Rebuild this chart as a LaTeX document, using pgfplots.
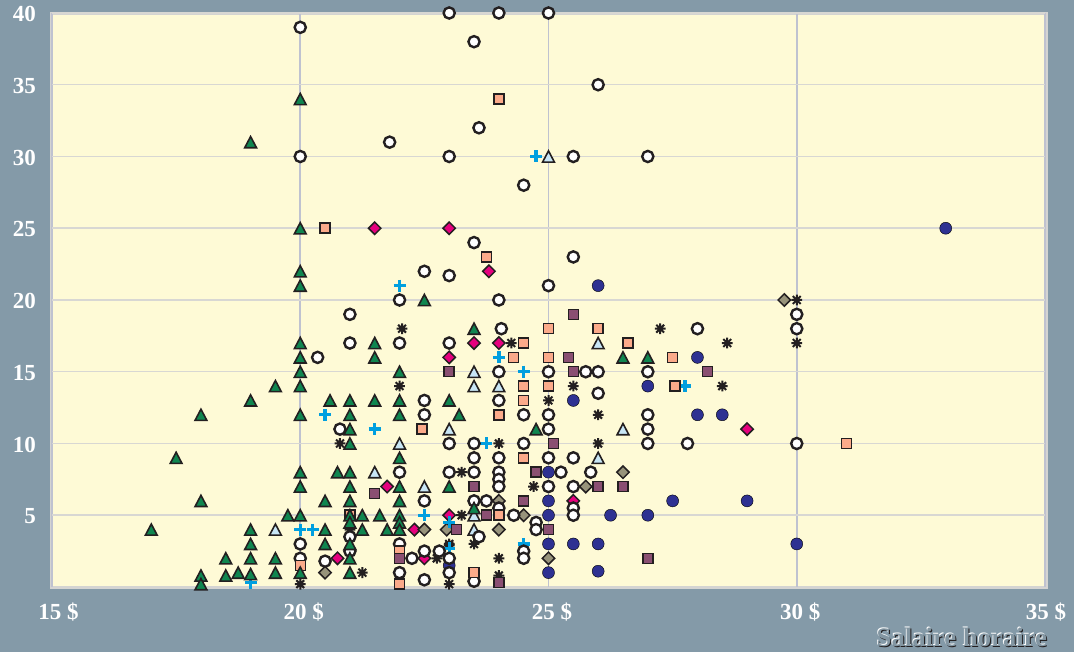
\documentclass[border=0pt]{standalone}
\usepackage{fontspec}
\setmainfont{Liberation Serif}
\usepackage{pgfplots}
\pgfplotsset{compat=1.18}
\definecolor{bgc}{HTML}{849AA8}
\definecolor{plotc}{HTML}{FEFAD6}
\definecolor{framec}{HTML}{D4D4D2}
\definecolor{hg}{HTML}{D8D7D3}
\definecolor{vg}{HTML}{BFC2D0}
\definecolor{ink}{HTML}{231F20}
\definecolor{gre}{HTML}{0F8650}
\definecolor{ltb}{HTML}{C8E6F6}
\definecolor{sal}{HTML}{FBAA8A}
\definecolor{pur}{HTML}{8A4F72}
\definecolor{pnk}{HTML}{E6007E}
\definecolor{gry}{HTML}{97937B}
\definecolor{blu}{HTML}{2E3192}
\definecolor{pls}{HTML}{009FDF}
\pgfdeclareplotmark{tri}{%
  \pgfpathmoveto{\pgfqpoint{0pt}{5.6pt}}%
  \pgfpathlineto{\pgfqpoint{5.9pt}{-5.6pt}}%
  \pgfpathlineto{\pgfqpoint{-5.9pt}{-5.6pt}}%
  \pgfpathclose\pgfusepathqfillstroke}
\pgfdeclareplotmark{dia}{%
  \pgfpathmoveto{\pgfqpoint{0pt}{6.2pt}}%
  \pgfpathlineto{\pgfqpoint{6.2pt}{0pt}}%
  \pgfpathlineto{\pgfqpoint{0pt}{-6.2pt}}%
  \pgfpathlineto{\pgfqpoint{-6.2pt}{0pt}}%
  \pgfpathclose\pgfusepathqfillstroke}
\pgfdeclareplotmark{ast}{%
  \pgfpathmoveto{\pgfqpoint{-5.4pt}{0pt}}\pgfpathlineto{\pgfqpoint{5.4pt}{0pt}}%
  \pgfpathmoveto{\pgfqpoint{0pt}{-5.4pt}}\pgfpathlineto{\pgfqpoint{0pt}{5.4pt}}%
  \pgfpathmoveto{\pgfqpoint{-3.9pt}{-3.9pt}}\pgfpathlineto{\pgfqpoint{3.9pt}{3.9pt}}%
  \pgfpathmoveto{\pgfqpoint{-3.9pt}{3.9pt}}\pgfpathlineto{\pgfqpoint{3.9pt}{-3.9pt}}%
  \pgfusepathqstroke}
\pgfplotsset{
  s/.style={only marks},
}
\begin{document}
\begin{tikzpicture}[x=1pt,y=1pt]
\useasboundingbox (0,0) rectangle (1074,652);
\fill[bgc] (0,0) rectangle (1074,652);
\fill[plotc] (51.5,64.5) rectangle (1046.5,638.5);
\draw[framec,line width=3pt] (51.5,64.5) rectangle (1046.5,638.5);
\begin{axis}[
  at={(52pt,65pt)},anchor=south west,
  scale only axis,width=993pt,height=574pt,
  xmin=15,xmax=35,ymin=0,ymax=40,
  clip=false,
  axis line style={draw=none},
  major tick length=0pt,
  xtick={15,20,25,30,35},
  xticklabels={\hspace*{6pt}15 \$,20 \$,25 \$,30 \$,35 \$\hspace*{5pt}},
  ytick={5,10,15,20,25,30,35,40},
  yticklabels={5,10,15,20,25,30,35,40},
  grid=major,
  x grid style={vg,line width=1.6pt},
  y grid style={hg,line width=1.5pt},
  ticklabel style={font=\fontsize{23}{23}\selectfont\bfseries,text=white,inner sep=0pt},
  xticklabel style={anchor=center,yshift=-25pt,xshift=3.5pt},
  yticklabel style={anchor=east,xshift=-16pt,yshift=-1pt},
  /pgf/number format/assume math mode=true,
]
% dark blue dots
\addplot[s,mark=*,mark size=6pt,mark options={fill=blu,draw=none}] coordinates {
(33,25)(26,21)(28,16)(27,14)(25.5,13)(28,12)(28.5,12)(25,8)(25,6)(25,5)(27.5,6)(29,6)(26.25,5)(27,5)(25,3)(25.5,3)(26,3)(30,3)(25,1)(26,1.1)(23,1.5)};
% pink diamonds
\addplot[s,mark=dia,mark options={fill=pnk,draw=ink,line width=1.5pt}] coordinates {
(21.5,25)(23,25)(23.8,22)(23.5,17)(24,17)(23,16)(29,11)(21.75,7)(22.3,4)(25.5,6)(23,5)(22.5,2)(20.75,2)};
% grey diamonds
\addplot[s,mark=dia,mark options={fill=gry,draw=ink,line width=1.5pt}] coordinates {
(29.75,20)(26.5,8)(25.75,7)(24,6)(24.5,5)(22.5,4)(22.95,4)(24,4)(25,2)(20.5,1)};
% asterisks
\addplot[s,mark=ast,mark options={draw=ink,line width=2pt}] coordinates {
(22.05,18)(27.25,18)(24.25,17)(28.6,17)(30,20)(30,17)(22,14)(25.5,14)(28.5,14)(25,13)(26,12)(20.8,10)(24,10)(26,10)(23.25,8)(24.7,7)(23.25,5)(23,3)(23.5,3)(22.75,2)(24,2)(24,0.8)(23,0.2)(20,0.2)(21.25,1)(21,4)(23,2.9)};
% plus
\addplot[s,mark=+,mark size=6pt,mark options={draw=pls,line width=3.3pt}] coordinates {
(20.5,12)(21.5,11)(22,21)(24,16)(24.5,15)(24.75,30)(27.75,14)(23.75,10)(22.5,5)(23,4.5)(23,2.7)(24.5,3)(19,0.3)(20,4)(20.25,4)};
% light blue triangles
\addplot[s,mark=tri,mark options={fill=ltb,draw=ink,line width=1.6pt}] coordinates {
(19.5,4)(21.5,8)(22,10)(22.5,7)(23,11)(23.5,5)(23.5,4)(26,9)(26.5,11)(23.5,15)(23.5,14)(24,14)(26,17)(25,30)};
% white circles
\addplot[s,mark=*,mark size=5.6pt,mark options={fill=white,draw=ink,line width=2.4pt}] coordinates {
(20,39)(23,40)(24,40)(25,40)(23.5,38)(26,35)(23.6,32)(21.8,31)(20,30)(23,30)(25.5,30)(27,30)(24.5,28)(23.5,24)(25.5,23)(22.5,22)(23,21.7)(25,21)(22,20)(24,20)(21,19)(30,19)(30,18)(24.05,18)(28,18)(21,17)(22,17)(23,17)(20.35,16)(24,15)(25,15)(25.75,15)(26,15)(27,15)(26,13.5)(24,13)(22.5,13)(22.5,12)(24.5,12)(25,12)(27,12)(25,11)(27,11)(20.8,11)(23,10)(23.5,10)(24.5,10)(27,10)(27.8,10)(30,10)
(23.5,9)(24,9)(25,9)(25.5,9)(22,8)(23,8)(23.5,8)(24,8)(25.25,8)(25.85,8)(24,7.5)(24,7)(25,7)(25.5,7)(22.5,6)(23.5,6)(23.75,6)(24,5.5)(24.3,5)(25.5,5.5)(25.5,5)(24.75,4.5)(24.75,4)(23.6,3.5)(22,3)(22.5,2.5)(22.8,2.5)(23,2)(22.25,2)(24.5,2.5)(24.5,2)(22,1)(23,1)(22.5,0.5)(23.5,0.4)(21,3.5)(21,2.5)(20.5,1.8)(20,3)(20,2)};
% salmon squares
\addplot[s,mark=square*,mark size=5pt,mark options={fill=sal,draw=ink,line width=1.5pt}] coordinates {
(20.5,25)(23.75,23)(24,34)(25,18)(26,18)(26.6,17)(24.5,17)(24.3,16)(25,16)(27.5,16)(24.5,14)(25,14)(27.55,14)(24.5,13)(24,12)(22.45,11)(24.5,9)(31,10)(21,5)(24,5)(20,1.5)(22,2.5)(22,0.2)(23.5,1)};
% purple squares
\addplot[s,mark=square*,mark size=5pt,mark options={fill=pur,draw=ink,line width=1.5pt}] coordinates {
(25.5,19)(25.4,16)(25.5,15)(28.2,15)(23,15)(25.1,10)(24.75,8)(23.5,7)(26,7)(26.5,7)(21.5,6.5)(24.5,6)(23.75,5)(23.15,4)(25,4)(22,2)(27,2)(24,0.3)};
% green triangles
\addplot[s,mark=tri,mark options={fill=gre,draw=ink,line width=1.6pt}] coordinates {
(17,4)(17.5,9)(18,6)(18,12)(18,0.8)(18,0.2)(18.5,2)(18.5,0.8)(18.75,1)(19,31)(19,13)(19,4)(19,3)(19,2)(19,0.9)(19.5,14)(19.5,2)(19.5,1)(19.75,5)
(20,34)(20,25)(20,22)(20,21)(20,17)(20,16)(20,15)(20,14)(20,12)(20,8)(20,7)(20,5)(20,1)(20.5,6)(20.5,4)(20.5,3)(20.6,13)(20.75,8)
(21,8)(21,7)(21,6)(21,5)(21,4.5)(21,13)(21,12)(21,11)(21,10)(21,3)(21,2)(21,1)(21.25,5)(21.25,4)(21.6,5)(21.5,17)(21.5,16)(21.5,13)(21.75,4)
(22,15)(22,13)(22,12)(22,9)(22,7)(22,6)(22,5)(22,4.5)(22,4)(22.5,20)(23,13)(23,7)(23.2,12)(23.5,18)(23.5,5.5)(24.75,11)(26.5,16)(27,16)};
\end{axis}
\node[text=ink,font=\fontsize{26.7}{27}\selectfont\bfseries,anchor=east,inner sep=0pt] at (1048.2,13.4) {Salaire horaire};
\node[text=white,font=\fontsize{26.7}{27}\selectfont\bfseries,anchor=east,inner sep=0pt] at (1046.4,15.2) {Salaire horaire};
\node[text=bgc!85!gray,font=\fontsize{26.7}{27}\selectfont\bfseries,anchor=east,inner sep=0pt] at (1047.2,14.2) {Salaire horaire};
\end{tikzpicture}
\end{document}
